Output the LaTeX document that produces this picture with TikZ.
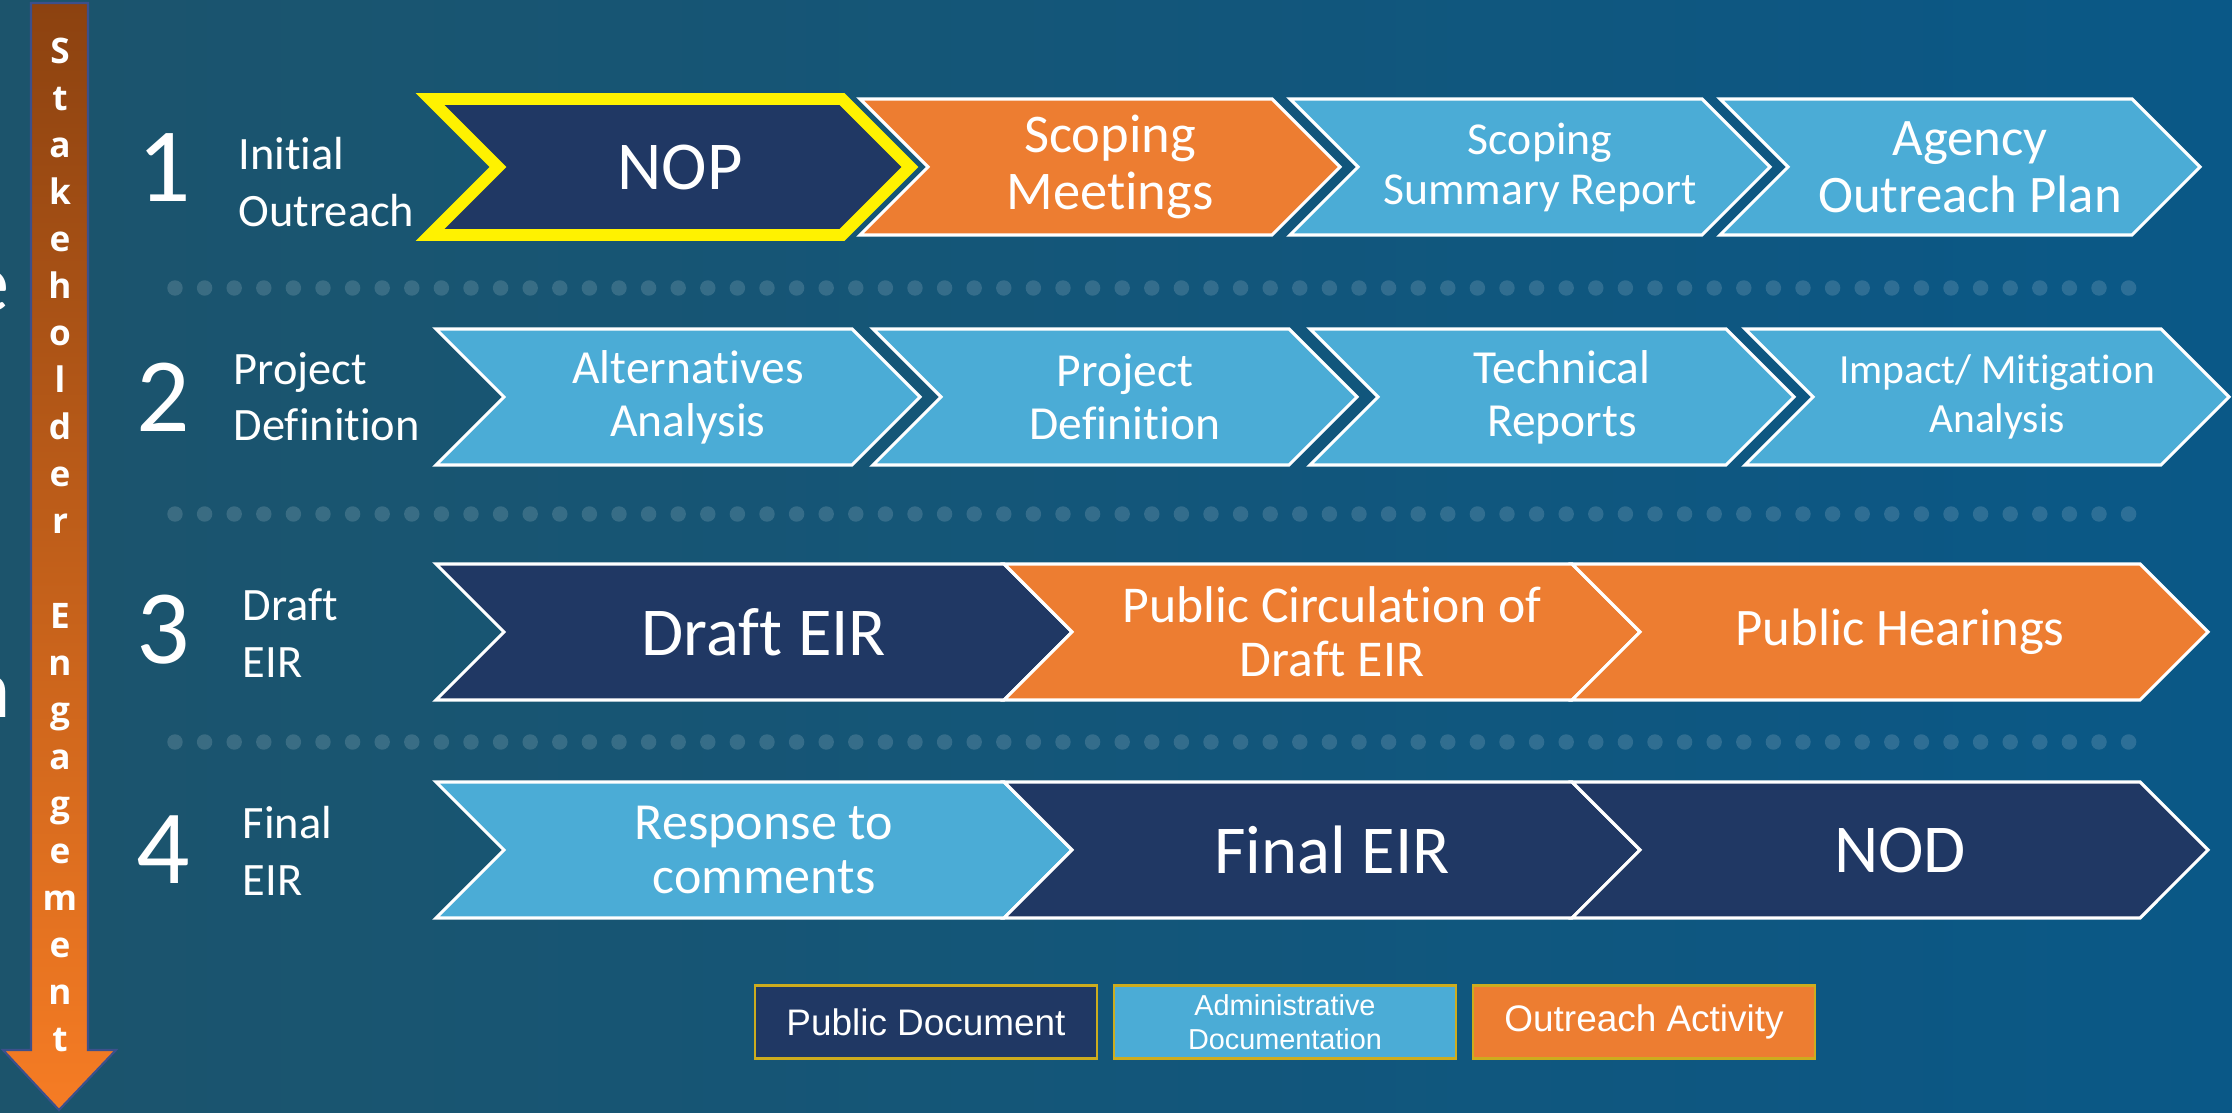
\documentclass[tikz,border=0pt]{standalone}
\usepackage{fontspec}
\setmainfont{Carlito}[Ligatures=NoCommon]
\newfontfamily\legendfont{Liberation Sans}
\newfontfamily\barfont{Open Sans}
\usepackage{xcolor}
\usepackage{tikz}
\usetikzlibrary{shapes.geometric}

\definecolor{bgleft}{RGB}{28,84,108}
\definecolor{bgright}{RGB}{10,88,135}
\definecolor{navy}{RGB}{32,56,100}
\definecolor{skyblue}{RGB}{75,172,214}
\definecolor{outorange}{RGB}{237,125,49}
\definecolor{barbrown}{RGB}{140,66,16}
\definecolor{barorange}{RGB}{246,124,36}
\definecolor{barline}{RGB}{60,80,140}
\definecolor{legendgold}{RGB}{205,172,30}

\tikzset{
  chevtext/.style={text=white, align=center, inner sep=0pt},
  navychev/.style={fill=navy, draw=white, line width=0.9pt},
  bluechev/.style={fill=skyblue, draw=white, line width=0.9pt},
  orangechev/.style={fill=outorange, draw=white, line width=0.9pt},
  nopchev/.style={fill=navy, draw=yellow, line width=3.4pt},
  legendbox/.style={draw=legendgold, line width=0.6pt, minimum width=3.41cm,
    minimum height=0.73cm, inner sep=0pt, text=white, align=center},
  barletter/.style={text=white, anchor=base, inner sep=0pt,
    font=\barfont\bfseries\fontsize{10}{12}\selectfont},
  stepnum/.style={text=white, inner sep=0pt, font=\fontsize{30}{30}\selectfont},
  steplabel/.style={text=white, anchor=west, align=left, inner sep=0pt,
    font=\fontsize{13.2}{16}\selectfont},
}

% style, name, left x, row y, width, {size}{skip}, text
\newcommand{\chevron}[7]{%
  \filldraw[#1] (#3,#4-68) -- ++(#5-68,0) -- ++(68,68) -- ++(-68,68)
    -- ++(-#5+68,0) -- ++(68,-68) -- cycle;
  \node[chevtext, font=\fontsize#6\selectfont] (#2) at (#3+#5/2+10,#4) {#7};}

\begin{document}
\begin{tikzpicture}[x=0.01cm, y=-0.01cm]
  \useasboundingbox (0,0) rectangle (2232,1113);
  \clip (0,0) rectangle (2232,1113);
  \shade[left color=bgleft, right color=bgright] (0,0) rectangle (2232,1113);

  % cut off letters at the left edge
  \node[text=white, anchor=base east, inner sep=0pt, font=\fontsize{24}{24}\selectfont] (cute) at (10,312) {e};
  \node[text=white, anchor=base east, inner sep=0pt, font=\fontsize{24}{24}\selectfont] (cutn) at (12,718) {n};

  % stakeholder engagement bar
  \shade[top color=barbrown, bottom color=barorange, draw=barline, line width=0.6pt]
    (31,3) -- (88,3) -- (88,1050) -- (116,1050) -- (59,1110) -- (3,1050) -- (31,1050) -- cycle;
  \foreach \ch [count=\k from 0] in {S,t,a,k,e,h,o,l,d,e,r}
    \node[barletter] (stake\k) at (60,64+47*\k) {\ch};
  \foreach \ch [count=\k from 0] in {E,n,g,a,g,e,m,e,n,t}
    \node[barletter] (engage\k) at (60,629+47*\k) {\ch};

  % dotted separators
  \foreach \r in {288,514,742}
    \foreach \i in {0,...,66}
      \fill[white, fill opacity=0.14] (175+\i*29.6,\r) circle (2.2pt);

  % step numbers and names
  \node[stepnum] (num1) at (164,168) {1};
  \node[stepnum] (num2) at (163,397) {2};
  \node[stepnum] (num3) at (163,630) {3};
  \node[stepnum] (num4) at (163,850) {4};
  \node[steplabel] (lab1) at (238,182) {Initial\\Outreach};
  \node[steplabel] (lab2) at (233,397) {Project\\Definition};
  \node[steplabel] (lab3) at (242,633) {Draft\\EIR};
  \node[steplabel] (lab4) at (242,851) {Final\\EIR};

  % row 1
  \chevron{nopchev}{nop}{430}{167}{480}{{19.5}{23}}{NOP}
  \chevron{orangechev}{scoping}{860}{167}{480}{{15.5}{16.3}}{Scoping\\Meetings}
  \chevron{bluechev}{summary}{1290}{167}{480}{{13}{14.2}}{Scoping\\Summary Report}
  \chevron{bluechev}{agency}{1720}{167}{480}{{15}{16.3}}{Agency\\Outreach Plan}

  % row 2
  \chevron{bluechev}{alternatives}{436}{397}{484}{{13.5}{15}}{Alternatives\\Analysis}
  \chevron{bluechev}{projdef}{873}{397}{484}{{13.5}{15}}{Project\\Definition}
  \chevron{bluechev}{technical}{1310}{397}{484}{{13.5}{15}}{Technical\\Reports}
  \chevron{bluechev}{impact}{1745}{397}{484}{{11.8}{13.8}}{Impact/ Mitigation\\Analysis}

  % row 3
  \chevron{navychev}{drafteir}{436}{632}{636}{{19.5}{23}}{Draft EIR}
  \chevron{orangechev}{circulation}{1004}{632}{636}{{14.7}{15.4}}{Public Circulation of\\Draft EIR}
  \chevron{orangechev}{hearings}{1572}{632}{636}{{15}{18}}{Public Hearings}

  % row 4
  \chevron{bluechev}{response}{436}{850}{636}{{14.8}{15.6}}{Response to\\comments}
  \chevron{navychev}{finaleir}{1004}{850}{636}{{19.5}{23}}{Final EIR}
  \chevron{navychev}{nod}{1572}{850}{636}{{19.5}{23}}{NOD}

  % legend
  \node[legendbox, fill=navy, font=\legendfont\fontsize{10.5}{12}\selectfont] (legpublic) at (926,1022) {Public Document};
  \node[legendbox, fill=skyblue, font=\legendfont\fontsize{8.2}{9.7}\selectfont] (legadmin) at (1285,1022) {Administrative\\Documentation};
  \node[legendbox, fill=outorange, font=\legendfont\fontsize{10.5}{12}\selectfont] (legoutreach) at (1644,1022) {Outreach Activity};
\end{tikzpicture}
\end{document}
